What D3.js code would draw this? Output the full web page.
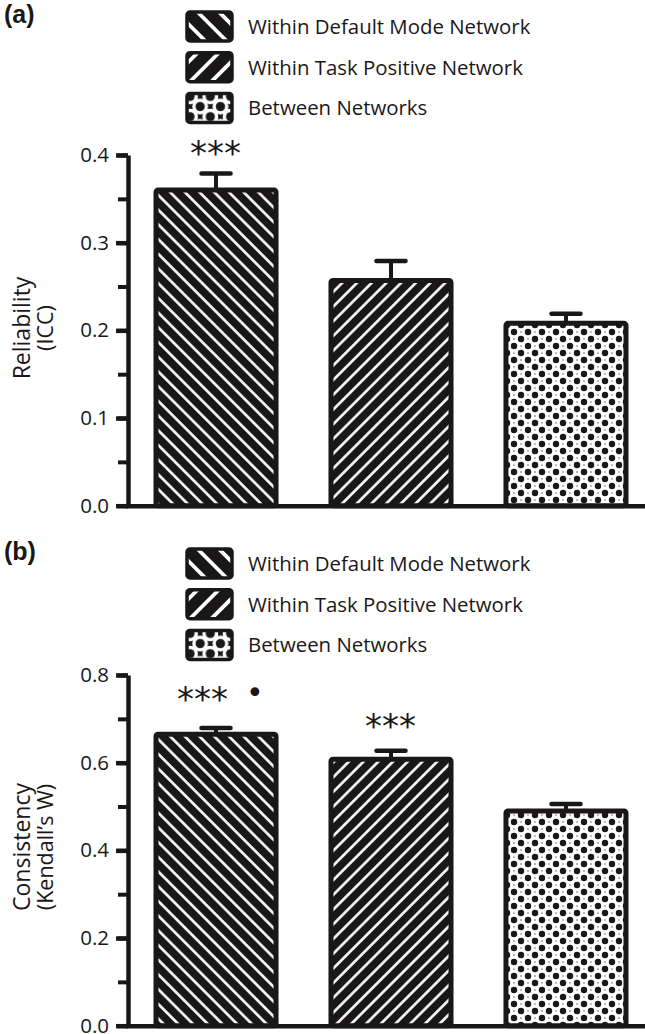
<!DOCTYPE html>
<html>
<head>
<meta charset="utf-8">
<script src="https://cdn.jsdelivr.net/npm/d3@7"></script>
<style>
  body { margin: 0; background: #fff; }
  text { font-family: "Open Sans", "Noto Sans", sans-serif; fill: #1a1718; }
</style>
</head>
<body>
<div id="chart"></div>
<script>
// data
const categories = ["Within Default Mode Network", "Within Task Positive Network", "Between Networks"]
const iccValues = [0.36, 0.257, 0.208]
const iccErrors = [0.019, 0.022, 0.011]
const iccSig = ["***", "", ""]
const kendallValues = [0.665, 0.608, 0.490]
const kendallErrors = [0.014, 0.019, 0.016]
const kendallSig = ["*** \u2022", "***", ""]
const iccTicks = [0, 0.1, 0.2, 0.3, 0.4]
const kendallTicks = [0, 0.2, 0.4, 0.6, 0.8]

const width = 645
const height = 1034
const ink = "#1a1718"
const patternIds = ["hatchBack", "hatchFwd", "dots"]

const svg = d3.select("#chart").append("svg")
    .attr("width", width)
    .attr("height", height)

const defs = svg.append("defs")

function makePatterns(suffix, scale, holeR) {
    // "\" stripes
    let p = defs.append("pattern").attr("id", "hatchBack" + suffix)
        .attr("patternUnits", "userSpaceOnUse")
        .attr("width", 10.4).attr("height", 10.4)
        .attr("patternTransform", `rotate(45) scale(${scale})`)
    p.append("rect").attr("width", 10.4).attr("height", 10.4).attr("fill", ink)
    p.append("rect").attr("x", 0).attr("y", 3.9).attr("width", 10.4).attr("height", 2.6).attr("fill", "#fff")

    p = defs.append("pattern").attr("id", "hatchFwd" + suffix)
        .attr("patternUnits", "userSpaceOnUse")
        .attr("width", 10.4).attr("height", 10.4)
        .attr("patternTransform", `rotate(-45) scale(${scale})`)
    p.append("rect").attr("width", 10.4).attr("height", 10.4).attr("fill", ink)
    p.append("rect").attr("x", 0).attr("y", 3.9).attr("width", 10.4).attr("height", 2.6).attr("fill", "#fff")

    p = defs.append("pattern").attr("id", "dots" + suffix)
        .attr("patternUnits", "userSpaceOnUse")
        .attr("width", 14).attr("height", 14)
        .attr("patternTransform", `translate(3,3) scale(${scale})`)
    p.append("rect").attr("width", 14).attr("height", 14).attr("fill", ink)
    const centers = [[0, 0], [14, 0], [0, 14], [14, 14], [7, 7]]
    p.selectAll("circle.w").data(centers).enter().append("circle")
        .attr("class", "w").attr("cx", d => d[0]).attr("cy", d => d[1])
        .attr("r", holeR).attr("fill", "#fff")
    p.selectAll("circle.b").data(centers).enter().append("circle")
        .attr("class", "b").attr("cx", d => d[0]).attr("cy", d => d[1])
        .attr("r", 3.2).attr("fill", ink)
}
makePatterns("", 1, 6.6)
makePatterns("L", 1.45, 5.5)

function drawPanel(opts) {
    const g = svg.append("g")

    const x = d3.scaleBand()
        .domain(categories)
        .range([128, 654])
        .paddingInner(0.314)
        .paddingOuter(0.16)

    const y = d3.scaleLinear()
        .domain([0, opts.max])
        .range([opts.bottom, opts.top])

    // panel letter
    g.append("text")
        .attr("x", 4).attr("y", opts.legendTop + 11)
        .style("font-family", "Liberation Sans, Arial, sans-serif")
        .style("font-weight", "bold")
        .style("font-size", "25px")
        .text(opts.letter)

    // legend
    const leg = g.selectAll("g.leg").data(categories).enter().append("g")
        .attr("class", "leg")
        .attr("transform", (d, i) => `translate(187,${opts.legendTop + i * 40.7})`)
    leg.append("rect")
        .attr("width", 45).attr("height", 29).attr("rx", 3)
        .attr("fill", (d, i) => `url(#${patternIds[i]}L)`)
        .attr("stroke", ink).attr("stroke-width", 3.5)
    leg.append("text")
        .attr("x", 61).attr("y", 22)
        .style("font-size", "20.4px")
        .text(d => d)

    // bars
    g.selectAll("rect.bar").data(opts.values).enter().append("rect")
        .attr("class", "bar")
        .attr("x", (d, i) => x(categories[i]))
        .attr("y", d => y(d))
        .attr("width", x.bandwidth())
        .attr("height", d => y(0) - y(d))
        .attr("rx", 2)
        .attr("fill", (d, i) => `url(#${patternIds[i]})`)
        .attr("stroke", ink)
        .attr("stroke-width", 5)

    // error bars (upper only)
    const eb = g.selectAll("g.err").data(opts.values).enter().append("g").attr("class", "err")
    eb.append("line")
        .attr("x1", (d, i) => x(categories[i]) + x.bandwidth() / 2)
        .attr("x2", (d, i) => x(categories[i]) + x.bandwidth() / 2)
        .attr("y1", d => y(d))
        .attr("y2", (d, i) => y(d + opts.errors[i]))
        .attr("stroke", ink).attr("stroke-width", 4)
    eb.append("line")
        .attr("x1", (d, i) => x(categories[i]) + x.bandwidth() / 2 - 14.5)
        .attr("x2", (d, i) => x(categories[i]) + x.bandwidth() / 2 + 14.5)
        .attr("y1", (d, i) => y(d + opts.errors[i]))
        .attr("y2", (d, i) => y(d + opts.errors[i]))
        .attr("stroke", ink).attr("stroke-width", 4.5).attr("stroke-linecap", "round")

    // significance marks: stars, optionally followed by a dot
    const sig = g.selectAll("text.sig").data(opts.sig).enter().append("text")
        .attr("class", "sig")
        .attr("x", (d, i) => x(categories[i]) + x.bandwidth() / 2 - 26 + opts.sigShift[i])
        .attr("y", (d, i) => y(opts.values[i] + opts.errors[i]) - opts.sigGap[i])
        .style("font-family", "DejaVu Sans, sans-serif")
        .style("font-size", "34px")
    sig.append("tspan").text(d => d.split(" ")[0])
    sig.append("tspan")
        .attr("dx", 18).attr("dy", -8)
        .style("font-size", "30px")
        .text(d => d.split(" ")[1] || "")

    // minor ticks
    const minor = d3.range(0, opts.max + 1e-9, opts.max / 8)
    g.append("g")
        .attr("transform", "translate(128,0)")
        .call(d3.axisLeft(y).tickValues(minor).tickSize(10).tickSizeOuter(0).tickFormat(""))
        .call(a => a.selectAll("line").attr("stroke", ink).attr("stroke-width", 4))
        .call(a => a.select(".domain").remove())

    // y axis
    g.append("g")
        .attr("transform", "translate(128,0)")
        .call(d3.axisLeft(y).tickValues(opts.ticks).tickSize(12).tickSizeOuter(0).tickPadding(7)
            .tickFormat(d3.format(".1f")))
        .call(a => a.select(".domain").attr("stroke", ink).attr("stroke-width", 4.5))
        .call(a => a.selectAll("line").attr("stroke", ink).attr("stroke-width", 4.5))
        .call(a => a.selectAll("text").style("font-size", "20.5px").style("font-family", "Open Sans, sans-serif").attr("fill", ink))

    // x axis line
    g.append("g")
        .attr("transform", `translate(0,${opts.bottom})`)
        .call(d3.axisBottom(d3.scaleLinear().range([126, width])).ticks(0).tickSizeOuter(0))
        .call(a => a.select(".domain").attr("stroke", ink).attr("stroke-width", 4.5))

    // y title
    const title = g.append("text")
        .attr("transform", `translate(0,${opts.titleY}) rotate(-90)`)
        .attr("text-anchor", "middle")
        .style("font-size", "23px")
    title.append("tspan").attr("x", 0).attr("y", 30).text(opts.title[0])
    title.append("tspan").attr("x", 0).attr("y", 53).style("font-size", "21.5px").text(opts.title[1])
}

drawPanel({
    letter: "(a)", legendTop: 12, top: 155, bottom: 505.7, max: 0.4,
    ticks: iccTicks, values: iccValues, errors: iccErrors, sig: iccSig,
    sigShift: [0, 0, 0], sigGap: [8, 8, 8],
    title: ["Reliability", "(ICC)"], titleY: 328
})
drawPanel({
    letter: "(b)", legendTop: 549, top: 675, bottom: 1025.7, max: 0.8,
    ticks: kendallTicks, values: kendallValues, errors: kendallErrors, sig: kendallSig,
    sigShift: [-13, 0, 0], sigGap: [17, 13, 13],
    title: ["Consistency", "(Kendall\u2019s W)"], titleY: 847
})
</script>
</body>
</html>
